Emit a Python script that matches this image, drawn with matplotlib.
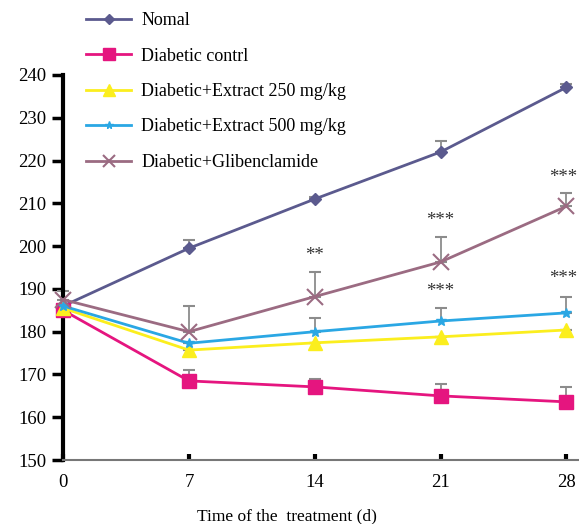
import matplotlib.pyplot as plt

plt.rcParams['font.family'] = ['Liberation Serif', 'DejaVu Serif']

days = [0, 7, 14, 21, 28]

normal = [186.0, 199.5, 211.0, 222.0, 237.1]
normal_err = [0.0, 2.0, 0.5, 2.5, 0.8]

control = [185.0, 168.5, 167.1, 165.0, 163.6]
control_err = [0.0, 2.5, 1.9, 2.8, 3.4]

extract250 = [185.5, 175.7, 177.4, 178.8, 180.4]
extract250_err = [0.0, 0.0, 0.0, 0.0, 0.0]

extract500 = [186.0, 177.3, 180.0, 182.5, 184.4]
extract500_err = [0.0, 0.0, 3.2, 3.1, 3.8]

gliben = [187.5, 180.0, 188.2, 196.3, 209.3]
gliben_err = [2.0, 6.0, 5.8, 5.9, 3.0]

# significance marks: (day, value, text)
stars = [(14, 195.8, '**'), (21, 204.0, '***'), (27.8, 214.0, '***'),
         (21, 187.5, '***'), (27.8, 190.5, '***')]

fig = plt.figure(figsize=(5.79, 5.24), dpi=100)
ax = fig.add_axes([0.109, 0.122, 0.891, 0.735])

series = [
    ('Nomal', normal, normal_err, '#5b5a8e', 'D', 6),
    ('Diabetic contrl', control, control_err, '#e5157f', 's', 10),
    ('Diabetic+Extract 250 mg/kg', extract250, extract250_err, '#fbee1e', '^', 10),
    ('Diabetic+Extract 500 mg/kg', extract500, extract500_err, '#2aa7e4', '*', 7),
    ('Diabetic+Glibenclamide', gliben, gliben_err, '#9b6b82', 'x', 11),
]

handles = []
for label, vals, err, color, marker, ms in series:
    ax.errorbar(days, vals, yerr=[[0] * len(err), err], fmt='none',
                ecolor='#8c8c8c', elinewidth=1.3, capsize=4, capthick=1.5,
                clip_on=False, zorder=2)
    line, = ax.plot(days, vals, color=color, marker=marker, markersize=ms,
                    linewidth=2, markeredgewidth=1.5 if marker == 'x' else 1,
                    clip_on=False, zorder=3, label=label)
    handles.append(line)

for d, v, t in stars:
    ax.text(d, v, t, ha='center', va='bottom', fontsize=13.5, color='#333333')

ax.set_xlim(0, 28.7)
ax.set_ylim(150, 240)
ax.set_xticks(days)
ax.set_yticks(range(150, 241, 10))
ax.tick_params(axis='y', direction='out', length=8, width=2.5, labelsize=13.5,
               color='black', pad=4)
ax.tick_params(axis='x', direction='in', length=4, width=3, labelsize=13.5,
               color='black', pad=10)

for side in ['top', 'right']:
    ax.spines[side].set_visible(False)
ax.spines['left'].set_linewidth(3)
ax.spines['bottom'].set_linewidth(1.5)
ax.spines['bottom'].set_color('#777777')

fig.text(287 / 579, 1 - 516 / 524, 'Time of the  treatment (d)', ha='center',
         va='center', fontsize=12.5)

fig.legend(handles=handles, loc='upper left', bbox_to_anchor=(0.133, 0.994),
           frameon=False, fontsize=13, handlelength=2.5, labelspacing=1.02,
           handletextpad=0.55, borderaxespad=0.1, markerscale=0.8)

fig.savefig('out.png', dpi=100)
